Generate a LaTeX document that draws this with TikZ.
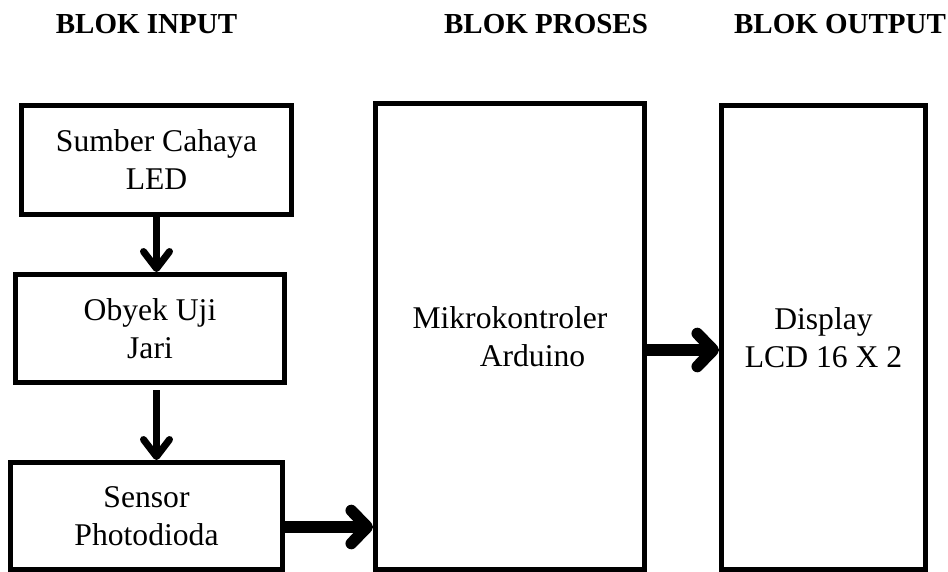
\documentclass[tikz,border=0pt]{standalone}
\usepackage{fontspec}
\setmainfont{Liberation Serif}
\usetikzlibrary{arrows.meta}

\begin{document}
\begin{tikzpicture}[x=0.02cm, y=-0.02cm,
    blok/.style={draw, line width=2.8pt, align=center, inner sep=0pt,
                 font=\fontsize{18}{21.6}\selectfont},
    judul/.style={anchor=base, font=\fontsize{16.5}{20}\selectfont\bfseries},
    panah/.style={-{Straight Barb[length=3.4mm, width=5.2mm, round]}, line width=4pt},
    panahtebal/.style={-{Straight Barb[length=3.2mm, width=6.6mm, round]}, line width=6.6pt}]
  \useasboundingbox (0,0) rectangle (948,572);

  % judul blok
  \node[judul] (jinput)  at (146.5, 33) {BLOK INPUT};
  \node[judul] (jproses) at (546, 33)   {BLOK PROSES};
  \node[judul] (joutput) at (840, 33)   {BLOK OUTPUT};

  % blok input
  \node[blok, minimum width=5.4cm,  minimum height=2.18cm] (sumber) at (156.5, 160)   {Sumber Cahaya\\LED};
  \node[blok, minimum width=5.38cm, minimum height=2.16cm] (obyek)  at (150, 328.5)   {Obyek Uji\\Jari};
  \node[blok, minimum width=5.44cm, minimum height=2.14cm] (sensor) at (146.5, 516)   {Sensor\\Photodioda};

  % blok proses dan output
  \node[blok, minimum width=5.38cm, minimum height=9.32cm] (mikro)   at (510, 336.5)  {Mikrokontroler\\\hspace*{0.9cm}Arduino};
  \node[blok, minimum width=4.08cm, minimum height=9.28cm] (display) at (823.5, 337.5) {Display\\LCD 16 X 2};

  \draw[panah] (sumber.south) -- (sumber.south |- obyek.north);
  \draw[panah] (sumber.south |- 0,390) -- (sumber.south |- sensor.north);
  \draw[panahtebal] (sensor.east |- 0,527) -- (mikro.west |- 0,527);
  \draw[panahtebal] (mikro.east |- 0,350) -- (display.west |- 0,350);
\end{tikzpicture}
\end{document}
